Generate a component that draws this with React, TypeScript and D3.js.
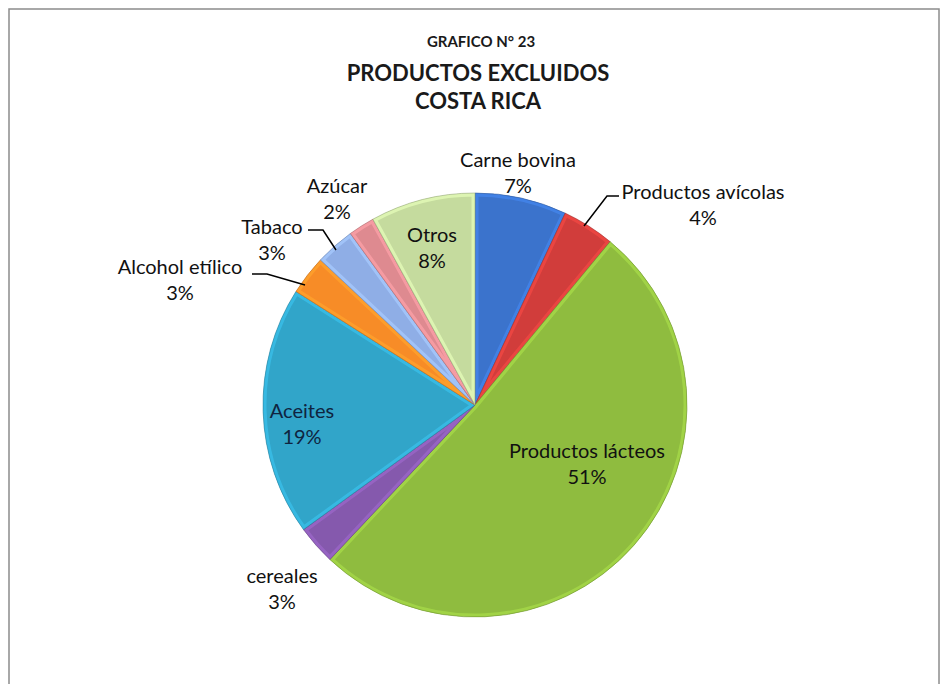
import React from "react";
import * as d3 from "d3";

const categories = ["Carne bovina", "Productos avícolas", "Productos lácteos", "cereales", "Aceites", "Alcohol etílico", "Tabaco", "Azúcar", "Otros"];
const values = [7, 4, 51, 3, 19, 3, 3, 2, 8];
const colors = ["#3B73CC", "#D13D3B", "#8FBC3F", "#8559AD", "#31A5C9", "#F78C27", "#8FAEE6", "#DE8A90", "#C5DB9E"];
const titleLines = ["GRAFICO N° 23", "PRODUCTOS EXCLUIDOS", "COSTA RICA"];

const labelPos: [number, number][] = [
  [518, 167], [703, 199], [587, 458], [282, 583], [302, 418], [180, 274], [272, 234], [337, 193], [432, 242],
];
const leaders: ([number, number][] | null)[] = [
  null,
  [[584, 226], [607, 196], [619, 196]],
  null, null, null,
  [[252, 274], [267, 274], [305, 285]],
  [[308, 230], [323, 230], [336, 250]],
  null, null,
];

const W = 942, H = 684;
const cx = 475, cy = 405, R = 212;

export default function App() {
  const pie = d3.pie<number>().sort(null).value((d) => d)(values);
  const arc = d3.arc<d3.PieArcDatum<number>>().innerRadius(0).outerRadius(R);
  const total = d3.sum(values);
  const fmt = d3.format(".0%");
  const font = "Lato, Calibri, 'Open Sans', sans-serif";
  return (
    <svg width={W} height={H} style={{ position: "absolute", left: 0, top: 0, background: "#fff" }}>
      <defs>
        {pie.map((p, i) => (
          <clipPath key={i} id={`c${i}`}>
            <path d={arc(p) || ""} transform={`translate(${cx},${cy})`} />
          </clipPath>
        ))}
      </defs>
      <rect x={0} y={0} width={W} height={H} fill="#fff" />
      <rect x={9} y={9} width={930} height={700} fill="#fff" stroke="#8c8c8c" strokeWidth={1.5} />
      <g fontFamily={font} fontWeight="bold" textAnchor="middle" fill="#1a1a1a">
        <text x={481} y={47} fontSize={15}>{titleLines[0]}</text>
        <text x={478} y={81} fontSize={22}>{titleLines[1]}</text>
        <text x={478} y={109} fontSize={22}>{titleLines[2]}</text>
      </g>
      {pie.map((p, i) => {
        const d = arc(p) || "";
        const c = d3.color(colors[i])!;
        return (
          <g key={i}>
            <path d={d} transform={`translate(${cx},${cy})`} fill={c.formatHex()} />
            <g clipPath={`url(#c${i})`}>
              <path d={d} transform={`translate(${cx},${cy})`} fill="none" stroke={c.brighter(0.45).formatHex()} strokeWidth={7} strokeOpacity={0.7} strokeLinejoin="round" />
            </g>
            <path d={d} transform={`translate(${cx},${cy})`} fill="none" stroke={c.darker(0.8).formatHex()} strokeWidth={0.8} strokeOpacity={0.7} strokeLinejoin="round" />
          </g>
        );
      })}
      {leaders.map((l, i) =>
        l ? <polyline key={i} points={l.map((p) => p.join(",")).join(" ")} fill="none" stroke="#000" strokeWidth={1.5} /> : null
      )}
      <g fontFamily={font} fontSize={20} textAnchor="middle">
        {pie.map((p, i) => (
          <text key={i} x={labelPos[i][0]} y={labelPos[i][1]} fill={i === 4 ? "#0f2440" : "#111"}>
            <tspan x={labelPos[i][0]}>{categories[i]}</tspan>
            <tspan x={labelPos[i][0]} dy={26}>{fmt(values[i] / total)}</tspan>
          </text>
        ))}
      </g>
    </svg>
  );
}
